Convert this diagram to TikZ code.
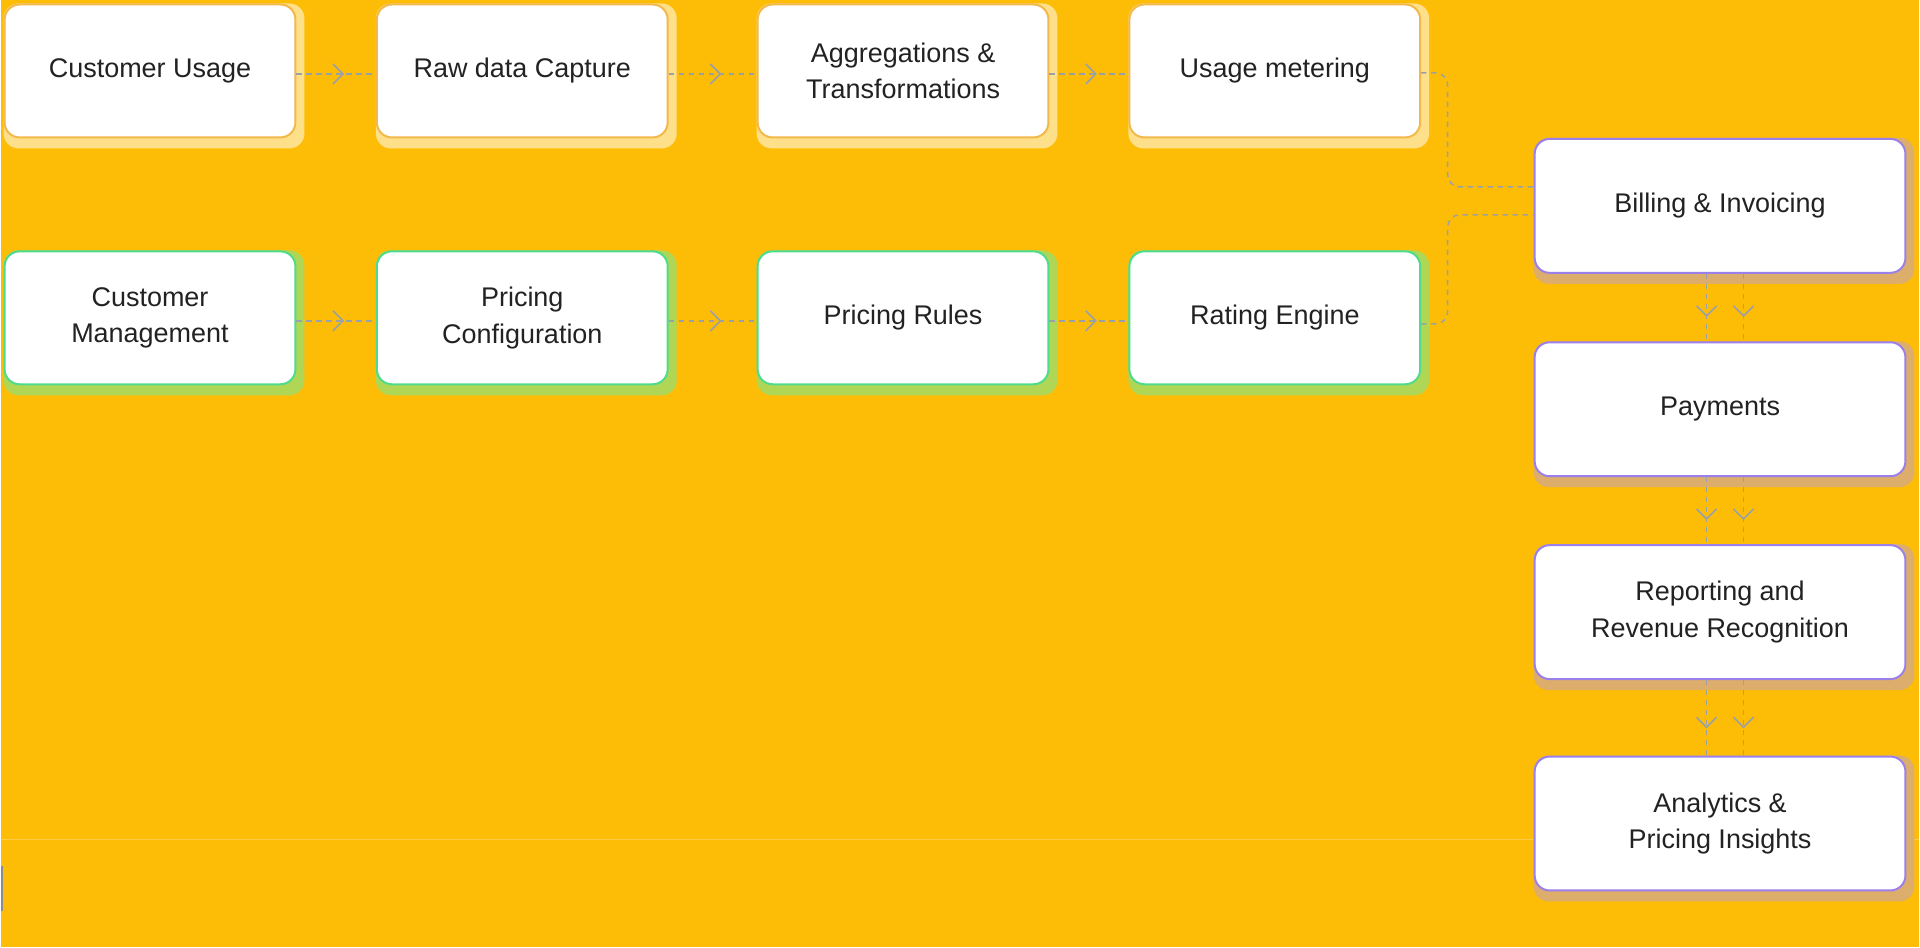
\documentclass[tikz,border=0pt]{standalone}
\usepackage{fontspec}
\setmainfont{Liberation Sans}
\usetikzlibrary{arrows.meta,decorations.markings,calc}
\pgfdeclarelayer{bg}
\pgfdeclarelayer{shadowlayer}
\pgfsetlayers{bg,shadowlayer,main}
\definecolor{bgyellow}{HTML}{FDBD07}
\definecolor{bgline}{HTML}{FDCB45}
\definecolor{txt}{HTML}{222222}
\definecolor{conncol}{HTML}{9AA0A8}
\definecolor{ybord}{HTML}{F2B84A}
\definecolor{yshad}{HTML}{FFE08A}
\definecolor{gbord}{HTML}{4FDB8C}
\definecolor{gshad}{HTML}{B0D655}
\definecolor{pbord}{HTML}{9C80EA}
\definecolor{pshad}{HTML}{DDAD6B}
\newcommand\myshadow[2]{%
  \begin{pgfonlayer}{shadowlayer}
    \fill[#2, rounded corners=7.5pt] (#1.north west) rectangle ([shift={(8,10)}]#1.south east);
  \end{pgfonlayer}}
\tikzset{
  base/.style={draw, fill=white, line width=1pt, rounded corners=7.5pt, align=center,
    text=txt, font=\fontsize{13.5}{18.3}\selectfont, inner sep=2pt},
  ybox/.style={base, draw=ybord, minimum width=145.5pt, minimum height=66.5pt},
  gbox/.style={base, draw=gbord, minimum width=145.5pt, minimum height=66.5pt},
  pbox/.style={base, draw=pbord, minimum width=185.5pt, minimum height=67pt},
  conn/.style={draw=conncol, line width=0.75pt, dash pattern=on 2.6pt off 2.4pt},
  midarrow/.style={decoration={markings, mark=at position #1 with {\arrow[conncol, line width=0.8pt]{Straight Barb[length=5pt, width=10pt]}}}, postaction=decorate},
}
\begin{document}
\begin{tikzpicture}[x=0.5pt, y=-0.5pt]
\begin{pgfonlayer}{bg}
  \fill[bgyellow] (0,0) rectangle (1920,948);
  \draw[bgline, line width=0.6pt] (0,840) -- (1920,840);
  \fill[gray!90] (0,867) rectangle (2.5,912);
\end{pgfonlayer}
\useasboundingbox (0,0) rectangle (1920,948);

% row 1
\node[ybox] (cu)  at (149.5,71) {Customer Usage};
\node[ybox] (raw) at (522,71)   {Raw data Capture};
\node[ybox] (agg) at (903,71)   {Aggregations \&\\Transformations};
\node[ybox] (use) at (1275,71)  {Usage metering};
% row 2
\node[gbox] (cm)  at (149.5,318) {Customer\\Management};
\node[gbox] (pc)  at (522,318)   {Pricing\\Configuration};
\node[gbox] (pr)  at (903,318)   {Pricing Rules};
\node[gbox] (re)  at (1275,318)  {Rating Engine};
% right column
\node[pbox] (bill) at (1720.5,206)   {Billing \& Invoicing};
\node[pbox] (pay)  at (1720.5,409.5) {Payments};
\node[pbox] (rep)  at (1720.5,612.5) {Reporting and\\Revenue Recognition};
\node[pbox] (ana)  at (1720.5,824)   {Analytics \&\\Pricing Insights};

\foreach \n in {cu,raw,agg,use}{\myshadow{\n}{yshad}}
\foreach \n in {cm,pc,pr,re}{\myshadow{\n}{gshad}}
\foreach \n in {bill,pay,rep,ana}{\myshadow{\n}{pshad}}

% horizontal connectors
\foreach \a/\b in {cu/raw,raw/agg,agg/use,cm/pc,pc/pr,pr/re}{
  \draw[conn, midarrow=0.6] ([shift={(0,3)}]\a.east) -- ([shift={(0,3)}]\b.west);
}
% into billing
\draw[conn, rounded corners=6pt] ([shift={(0,2)}]use.east) -| ($(bill.west)+(-86,-19)$) -- ($(bill.west)+(0,-19)$);
\draw[conn, rounded corners=6pt] ([shift={(0,6)}]re.east) -| ($(bill.west)+(-86,9)$) -- ($(bill.west)+(0,9)$);
% vertical pairs
\foreach \a/\b in {bill/pay,pay/rep,rep/ana}{
  \draw[conn, midarrow=0.64] ([shift={(-13.5,0)}]\a.south) -- ([shift={(-13.5,0)}]\b.north);
  \draw[conn, midarrow=0.64] ([shift={(23.5,0)}]\a.south) -- ([shift={(23.5,0)}]\b.north);
}
\end{tikzpicture}
\end{document}
